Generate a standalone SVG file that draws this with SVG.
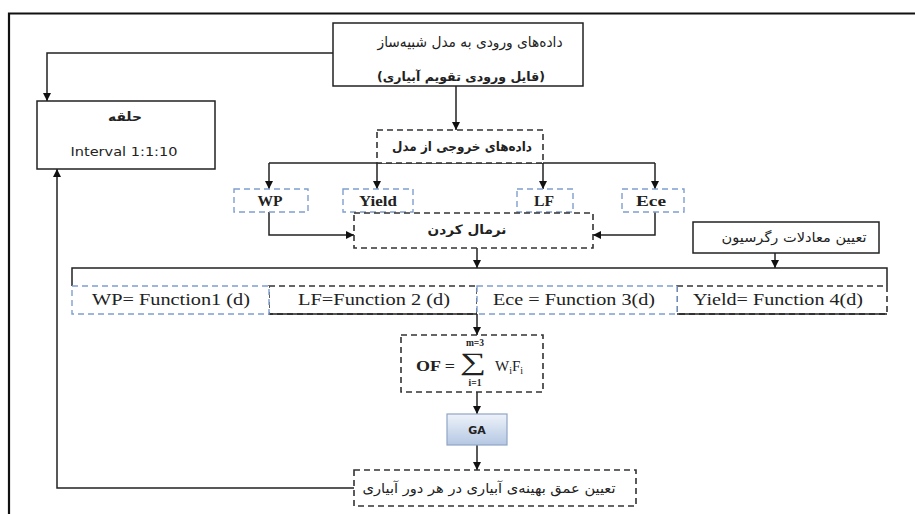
<svg xmlns="http://www.w3.org/2000/svg" width="915" height="514" viewBox="0 0 915 514">
<defs>
<style>
.frame{fill:none;stroke:#111;stroke-width:2.2}
.solid{fill:#fff;stroke:#222;stroke-width:1.5}
.dash{fill:#fff;stroke:#333;stroke-width:1.6;stroke-dasharray:6 4}
.bdash{fill:#fff;stroke:#7f9fcf;stroke-width:1.4;stroke-dasharray:6 4}
.line{fill:none;stroke:#222;stroke-width:1.5}
.fa{font-family:"DejaVu Sans",sans-serif;fill:#222;direction:rtl}
.fs{font-family:"Liberation Serif",serif;fill:#222}
.fv{font-family:"DejaVu Sans",sans-serif;fill:#222}
</style>
<marker id="arr" viewBox="0 0 10 10" refX="10" refY="5" markerWidth="8" markerHeight="8" markerUnits="userSpaceOnUse" orient="auto">
<path d="M0,0 L10,5 L0,10 z" fill="#111"/>
</marker>
<linearGradient id="ga" x1="0" y1="0" x2="0" y2="1">
<stop offset="0" stop-color="#eef3fa"/>
<stop offset="1" stop-color="#b4c7e2"/>
</linearGradient>
</defs>

<path class="frame" d="M9,514 V13.5 H915"/>

<g id="connectors">
<path class="line" d="M333,53 H47 V101" marker-end="url(#arr)"/>
<path class="line" d="M456,86 V130" marker-end="url(#arr)"/>
<path class="line" d="M269,163 H655"/>
<path class="line" d="M269,163 V189" marker-end="url(#arr)"/>
<path class="line" d="M377,163 V189" marker-end="url(#arr)"/>
<path class="line" d="M543,163 V189" marker-end="url(#arr)"/>
<path class="line" d="M655,163 V189" marker-end="url(#arr)"/>
<path class="line" d="M269,212 V235 H354" marker-end="url(#arr)"/>
<path class="line" d="M655,212 V235 H593" marker-end="url(#arr)"/>
<path class="line" d="M477,248 V268" marker-end="url(#arr)"/>
<path class="line" d="M775,253 V268" marker-end="url(#arr)"/>
<path class="line" d="M477,314 V335" marker-end="url(#arr)"/>
<path class="line" d="M477,392 V414" marker-end="url(#arr)"/>
<path class="line" d="M477,445 V470" marker-end="url(#arr)"/>
<path class="line" d="M354,488 H57 V169" marker-end="url(#arr)"/>
</g>

<g id="input">
<rect class="solid" x="333" y="23" width="250" height="63"/>
<text class="fa" x="470" y="47" font-size="14.5" text-anchor="middle" textLength="185" lengthAdjust="spacingAndGlyphs">داده‌های ورودی به مدل شبیه‌ساز</text>
<text class="fa" x="461" y="81" font-size="12.5" font-weight="bold" text-anchor="middle" textLength="168" lengthAdjust="spacingAndGlyphs">(قایل ورودی تقویم آبیاری)</text>
</g>

<g id="loop">
<rect class="solid" x="37" y="101" width="178" height="68"/>
<text class="fa" x="125" y="121" font-size="12.5" font-weight="bold" text-anchor="middle" textLength="34" lengthAdjust="spacingAndGlyphs">حلقه</text>
<text class="fv" x="124" y="156" font-size="13" text-anchor="middle" textLength="107" lengthAdjust="spacingAndGlyphs">Interval 1:1:10</text>
</g>

<g id="output">
<rect class="dash" x="377" y="130" width="166" height="33"/>
<text class="fa" x="462" y="151" font-size="13" font-weight="bold" text-anchor="middle" textLength="140" lengthAdjust="spacingAndGlyphs">داده‌های خروجی از مدل</text>
</g>

<g id="wp">
<rect class="bdash" x="234" y="189" width="74" height="23"/>
<text class="fs" x="270" y="206" font-size="14" font-weight="bold" text-anchor="middle" textLength="25" lengthAdjust="spacingAndGlyphs">WP</text>
</g>
<g id="yield">
<rect class="bdash" x="343" y="189" width="70" height="23"/>
<text class="fs" x="378" y="206" font-size="14" font-weight="bold" text-anchor="middle" textLength="38" lengthAdjust="spacingAndGlyphs">Yield</text>
</g>
<g id="lf">
<rect class="bdash" x="517" y="189" width="56" height="23"/>
<text class="fs" x="544" y="206" font-size="14" font-weight="bold" text-anchor="middle" textLength="20" lengthAdjust="spacingAndGlyphs">LF</text>
</g>
<g id="ece">
<rect class="bdash" x="622" y="189" width="62" height="23"/>
<text class="fs" x="651" y="206" font-size="14" font-weight="bold" text-anchor="middle" textLength="30" lengthAdjust="spacingAndGlyphs">Ece</text>
</g>

<g id="normalize">
<rect class="dash" x="354" y="213" width="239" height="35"/>
<text class="fa" x="467" y="234" font-size="13" font-weight="bold" text-anchor="middle" textLength="79" lengthAdjust="spacingAndGlyphs">نرمال کردن</text>
</g>

<g id="regression">
<rect class="solid" x="693" y="222" width="186" height="31"/>
<text class="fa" x="794" y="242" font-size="13.5" text-anchor="middle" textLength="145" lengthAdjust="spacingAndGlyphs">تعیین معادلات رگرسیون</text>
</g>

<g id="functions">
<path class="line" d="M72,286 V268 H887 V286"/>
<rect class="dash" x="269" y="286" width="208" height="28"/>
<rect class="dash" x="677" y="286" width="210" height="28"/>
<path class="line" d="M269,314 H477 M677,314 H887"/>
<rect class="bdash" x="72" y="286" width="197" height="28"/>
<rect class="bdash" x="477" y="286" width="200" height="28"/>
<text class="fs" x="171" y="305" font-size="16.5" text-anchor="middle" textLength="158" lengthAdjust="spacingAndGlyphs">WP= Function1 (d)</text>
<text class="fs" x="374" y="305" font-size="16.5" text-anchor="middle" textLength="152" lengthAdjust="spacingAndGlyphs">LF=Function 2 (d)</text>
<text class="fs" x="574" y="305" font-size="16.5" text-anchor="middle" textLength="162" lengthAdjust="spacingAndGlyphs">Ece = Function 3(d)</text>
<text class="fs" x="778" y="305" font-size="16.5" text-anchor="middle" textLength="170" lengthAdjust="spacingAndGlyphs">Yield= Function 4(d)</text>
</g>

<g id="objective">
<rect class="dash" x="401" y="335" width="142" height="57"/>
<text class="fs" x="416" y="371" font-size="15" font-weight="bold" textLength="39" lengthAdjust="spacingAndGlyphs">OF =</text>
<text class="fs" x="473" y="370" font-size="25" text-anchor="middle" textLength="26" lengthAdjust="spacingAndGlyphs">∑</text>
<text class="fs" x="475" y="346" font-size="9.5" font-weight="bold" text-anchor="middle">m=3</text>
<text class="fs" x="475" y="386" font-size="9.5" font-weight="bold" text-anchor="middle">i=1</text>
<text class="fs" x="495" y="371" font-size="15">W<tspan font-size="10" dy="3">i</tspan><tspan dy="-3">F</tspan><tspan font-size="10" dy="3">i</tspan></text>
</g>

<g id="ga-box">
<rect x="447" y="414" width="60" height="31" fill="url(#ga)" stroke="#90a6c6" stroke-width="1.2"/>
<text class="fv" x="477" y="434" font-size="11" font-weight="bold" fill="#333" text-anchor="middle">GA</text>
</g>

<g id="result">
<rect class="dash" x="354" y="470" width="282" height="36"/>
<text class="fa" x="489" y="493" font-size="13.5" text-anchor="middle" textLength="253" lengthAdjust="spacingAndGlyphs">تعیین عمق بهینه‌ی آبیاری در هر دور آبیاری</text>
</g>
</svg>
